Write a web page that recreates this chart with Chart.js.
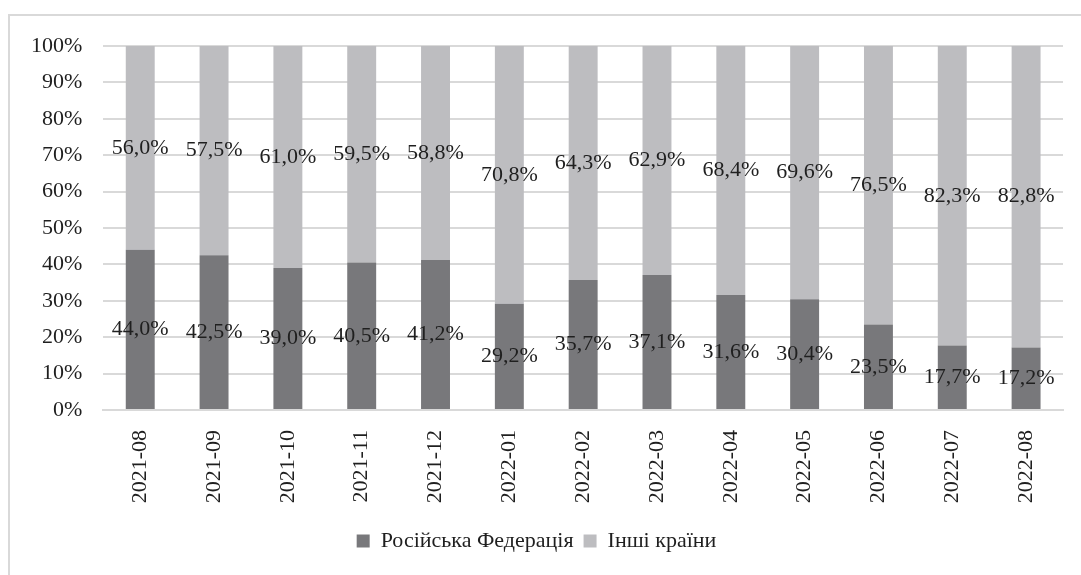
<!DOCTYPE html>
<html>
<head>
<meta charset="utf-8">
<script src="https://cdn.jsdelivr.net/npm/chart.js@4/dist/chart.umd.min.js"></script>
<style>
  body { margin: 0; background: #fff; }
  #frame { position: absolute; left: 8px; top: 14px; width: 1090px; height: 590px; border: 2px solid #d9d9d9; box-sizing: border-box; }
  #wrap { position: absolute; left: 0; top: 0; width: 1081px; height: 575px; }
</style>
</head>
<body>
<div id="frame"></div>
<div id="wrap"><canvas id="chart" width="1081" height="575"></canvas></div>
<script>
const months = ['2021-08', '2021-09', '2021-10', '2021-11', '2021-12', '2022-01', '2022-02',
  '2022-03', '2022-04', '2022-05', '2022-06', '2022-07', '2022-08'];
const russia = [44.0, 42.5, 39.0, 40.5, 41.2, 29.2, 35.7, 37.1, 31.6, 30.4, 23.5, 17.7, 17.2];
const others = [56.0, 57.5, 61.0, 59.5, 58.8, 70.8, 64.3, 62.9, 68.4, 69.6, 76.5, 82.3, 82.8];

const serif = '"Liberation Serif", "Times New Roman", serif';
const textColor = '#1f1f1f';

// value labels in the middle of each segment, comma as decimal separator
const segmentLabels = {
  id: 'segmentLabels',
  afterDatasetsDraw(chart) {
    const ctx = chart.ctx;
    ctx.save();
    ctx.font = '22px ' + serif;
    ctx.fillStyle = textColor;
    ctx.textAlign = 'center';
    ctx.textBaseline = 'middle';
    chart.data.datasets.forEach((ds, i) => {
      chart.getDatasetMeta(i).data.forEach((bar, j) => {
        const y = (bar.y + bar.base) / 2;
        ctx.fillText(ds.data[j].toFixed(1).replace('.', ',') + '%', bar.x, y);
      });
    });
    ctx.restore();
  }
};

new Chart(document.getElementById('chart'), {
  type: 'bar',
  data: {
    labels: months,
    datasets: [
      {
        label: 'Російська Федерація',
        data: russia,
        backgroundColor: '#78787b',
        categoryPercentage: 0.8,
        barPercentage: 0.49,
      },
      {
        label: 'Інші країни',
        data: others,
        backgroundColor: '#bdbdc0',
        categoryPercentage: 0.8,
        barPercentage: 0.49,
      },
    ],
  },
  options: {
    responsive: false,
    animation: false,
    layout: { padding: { left: 10, right: 18, top: 46, bottom: 13 } },
    plugins: {
      legend: {
        position: 'bottom',
        labels: {
          font: { family: serif, size: 22 },
          color: textColor,
          boxWidth: 13,
          boxHeight: 13,
          padding: 10,
        },
      },
      tooltip: { enabled: false },
    },
    scales: {
      x: {
        stacked: true,
        grid: { display: false },
        border: { color: '#d9d9d9', width: 2 },
        afterFit: scale => { scale.height = 110; },
        ticks: {
          font: { family: serif, size: 22 },
          color: textColor,
          minRotation: 90,
          maxRotation: 90,
          padding: 12,
        },
      },
      y: {
        stacked: true,
        min: 0,
        max: 100,
        grid: { color: '#d9d9d9', lineWidth: 2, drawTicks: false },
        border: { display: false },
        ticks: {
          stepSize: 10,
          font: { family: serif, size: 22 },
          color: textColor,
          padding: 21,
          callback: v => v + '%',
        },
      },
    },
  },
  plugins: [segmentLabels],
});
</script>
</body>
</html>
